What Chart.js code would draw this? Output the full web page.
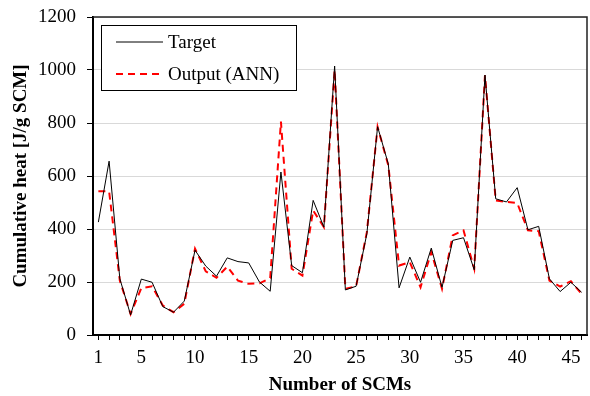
<!DOCTYPE html>
<html>
<head>
<meta charset="utf-8">
<title>Cumulative heat</title>
<script src="https://cdn.jsdelivr.net/npm/chart.js@4.4.1/dist/chart.umd.min.js"></script>
<style>
    html, body { margin: 0; padding: 0; background: #fff; }
    #wrap { width: 590px; height: 396px; }
</style>
</head>
<body>
<div id="wrap"><canvas id="heatChart" width="590" height="396"></canvas></div>
<script>
const scmLabels = Array.from({ length: 46 }, (_, i) => String(i + 1));

const targetHeat = [426, 656, 212, 76, 211, 199, 107, 86, 128, 320,
    260, 222, 291, 277, 272, 200, 165, 615, 262, 235,
    508, 407, 1015, 170, 184, 382, 786, 645, 178, 294,
    199, 328, 180, 357, 367, 246, 981, 514, 502, 556,
    397, 410, 212, 164, 199, 161];

const annHeat = [542, 542, 205, 79, 177, 184, 111, 86, 118, 326,
    240, 216, 258, 205, 193, 195, 215, 805, 250, 224,
    470, 407, 1000, 174, 184, 388, 785, 640, 262, 275,
    180, 313, 174, 376, 395, 250, 980, 508, 502, 498,
    395, 392, 205, 183, 203, 155];

const yTicks = [0, 200, 400, 600, 800, 1000, 1200];

document.addEventListener('DOMContentLoaded', () => {
    const serif = "'Liberation Serif', 'Times New Roman', serif";

    // frame on top/right + boxed legend inside the plot
    const framePlugin = {
        id: 'frameAndLegend',
        afterDatasetsDraw(chart) {
            const { ctx, chartArea: a } = chart;
            ctx.save();
            ctx.strokeStyle = '#222';
            ctx.lineWidth = 1.5;
            ctx.beginPath();
            ctx.moveTo(a.left, a.top);
            ctx.lineTo(a.right, a.top);
            ctx.lineTo(a.right, a.bottom);
            ctx.stroke();

            const box = { x: 101.5, y: 25.5, w: 195, h: 65 };
            ctx.fillStyle = '#fff';
            ctx.fillRect(box.x, box.y, box.w, box.h);
            ctx.strokeStyle = '#000';
            ctx.lineWidth = 1;
            ctx.strokeRect(box.x, box.y, box.w, box.h);

            ctx.font = '19px ' + serif;
            ctx.textBaseline = 'middle';
            ctx.textAlign = 'left';
            chart.data.datasets.forEach((ds, i) => {
                const y = 42 + i * 32;
                ctx.strokeStyle = ds.borderColor;
                ctx.lineWidth = ds.borderWidth;
                ctx.setLineDash(ds.borderDash || []);
                ctx.beginPath();
                ctx.moveTo(116, y);
                ctx.lineTo(163, y);
                ctx.stroke();
                ctx.setLineDash([]);
                ctx.fillStyle = '#000';
                ctx.fillText(ds.label, 168, y + 1);
            });
            ctx.restore();
        }
    };

    const ctx = document.getElementById('heatChart').getContext('2d');
    new Chart(ctx, {
        type: 'line',
        data: {
            labels: scmLabels,
            datasets: [{
                label: 'Target',
                data: targetHeat,
                borderColor: '#000',
                borderWidth: 1,
                pointRadius: 0,
                tension: 0
            }, {
                label: 'Output (ANN)',
                data: annHeat,
                borderColor: '#ff0000',
                borderWidth: 2,
                borderDash: [7, 5],
                pointRadius: 0,
                tension: 0
            }]
        },
        options: {
            responsive: false,
            animation: false,
            devicePixelRatio: 1,
            layout: { padding: { top: 17, right: 3, left: 0, bottom: 0 } },
            plugins: {
                legend: { display: false },
                tooltip: { enabled: false }
            },
            scales: {
                x: {
                    offset: true,
                    afterFit: (scale) => {
                        scale.height = 61;
                        scale.paddingLeft = 0;
                        scale.paddingRight = 0;
                    },
                    border: { color: '#000', width: 2 },
                    grid: {
                        drawOnChartArea: false,
                        tickColor: '#000',
                        tickLength: 5
                    },
                    ticks: {
                        autoSkip: false,
                        maxRotation: 0,
                        padding: 7,
                        color: '#000',
                        font: { family: serif, size: 19 },
                        callback: (val, idx) => (idx === 0 || (idx + 1) % 5 === 0) ? scmLabels[idx] : ''
                    },
                    title: {
                        display: true,
                        text: 'Number of SCMs',
                        color: '#000',
                        font: { family: serif, size: 19, weight: 'bold' },
                        padding: { top: 0, bottom: 0 }
                    }
                },
                y: {
                    min: 0,
                    max: 1200,
                    afterFit: (scale) => {
                        scale.width = 93;
                        scale.paddingTop = 0;
                        scale.paddingBottom = 0;
                    },
                    afterBuildTicks: (scale) => { scale.ticks = yTicks.map(v => ({ value: v })); },
                    border: { color: '#000', width: 2 },
                    grid: {
                        color: '#d9d9d9',
                        tickColor: '#000',
                        tickLength: 6
                    },
                    ticks: {
                        padding: 11,
                        color: '#000',
                        font: { family: serif, size: 19 },
                        callback: (v) => String(v)
                    },
                    title: {
                        display: true,
                        text: 'Cumulative heat [J/g SCM]',
                        color: '#000',
                        font: { family: serif, size: 19, weight: 'bold' },
                        padding: { top: 10, bottom: 0 }
                    }
                }
            }
        },
        plugins: [framePlugin]
    });
});
</script>
</body>
</html>
